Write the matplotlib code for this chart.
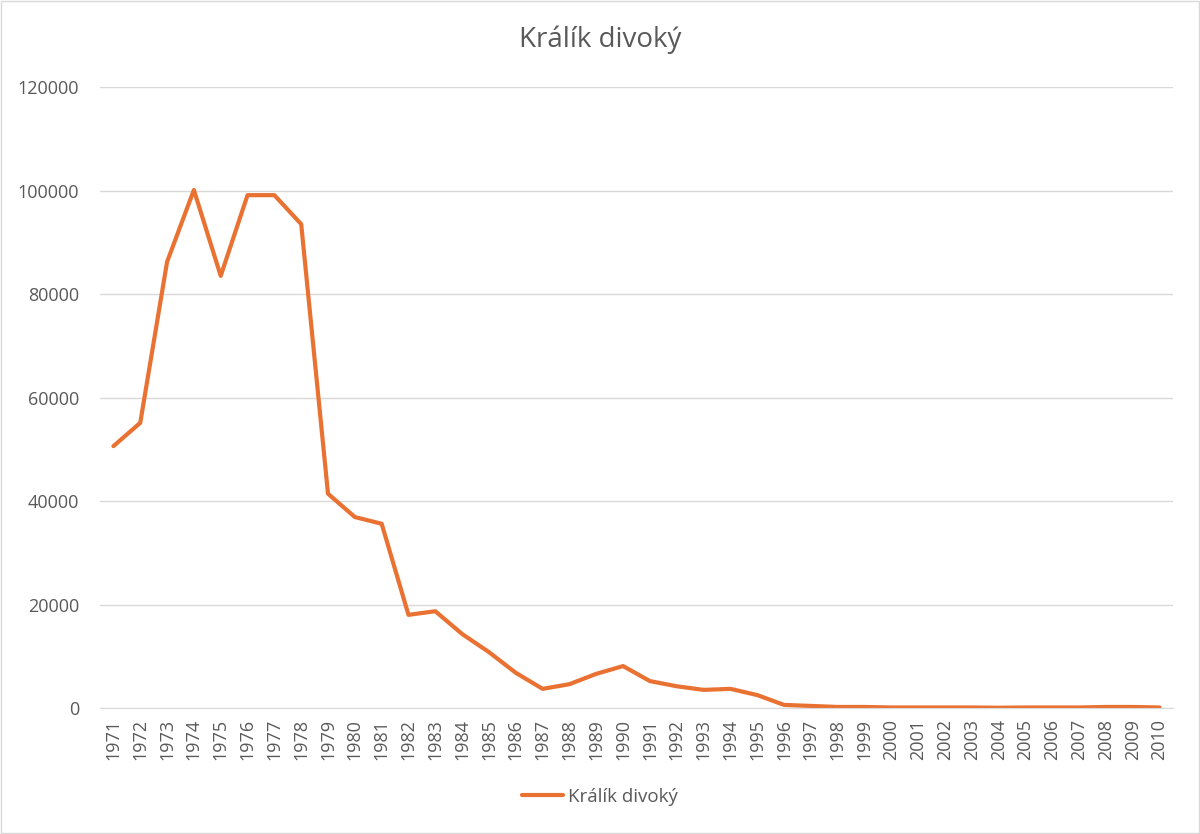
import numpy as np
import matplotlib.pyplot as plt

plt.rcParams['font.family'] = ['Open Sans', 'DejaVu Sans']

years = [str(y) for y in range(1971, 2011)]
values = [50600, 55100, 86200, 100100, 83500, 99100, 99100, 93500, 41400, 36900,
          35600, 18000, 18700, 14300, 10800, 6800, 3700, 4600, 6600, 8100,
          5200, 4200, 3500, 3700, 2500, 600, 400, 200, 200, 100,
          100, 100, 100, 50, 100, 100, 100, 200, 200, 100]
series_name = 'Králík divoký'

grey = '#595959'
orange = '#E97132'

fig = plt.figure(figsize=(12, 8.34), dpi=100)
ax = fig.add_axes([100 / 1200, 1 - 708 / 834, 1073 / 1200, 621 / 834])

x = np.arange(len(years))
ax.plot(x, values, color=orange, linewidth=3, label=series_name,
        solid_joinstyle='round', solid_capstyle='round')

ax.set_xlim(-0.5, len(years) - 0.5)
ax.set_ylim(0, 120000)
ax.set_yticks(np.arange(0, 120001, 20000))
ax.set_yticklabels([str(v) for v in range(0, 120001, 20000)], fontsize=13, color=grey)
ax.set_xticks(x)
ax.set_xticklabels(years, rotation=90, fontsize=13, color=grey)
ax.tick_params(axis='x', length=0, pad=8)
ax.tick_params(axis='y', length=0, pad=15)
ax.grid(axis='y', color='#d9d9d9', linewidth=1)
ax.set_axisbelow(True)
for s in ['top', 'right', 'left']:
    ax.spines[s].set_visible(False)
ax.spines['bottom'].set_color('#d9d9d9')

fig.text(0.5, 1 - 40 / 834, series_name, ha='center', va='center', fontsize=20, color=grey)
fig.legend(loc='center', bbox_to_anchor=(0.5, 1 - 797 / 834), frameon=False,
           fontsize=13.5, labelcolor=grey, handlelength=2.2, handletextpad=0.3)

fig.patches.append(plt.Rectangle((0.001, 0.001), 0.998, 0.998, transform=fig.transFigure,
                                 fill=False, edgecolor='#d9d9d9', linewidth=1))

fig.savefig('out.png', dpi=100)
